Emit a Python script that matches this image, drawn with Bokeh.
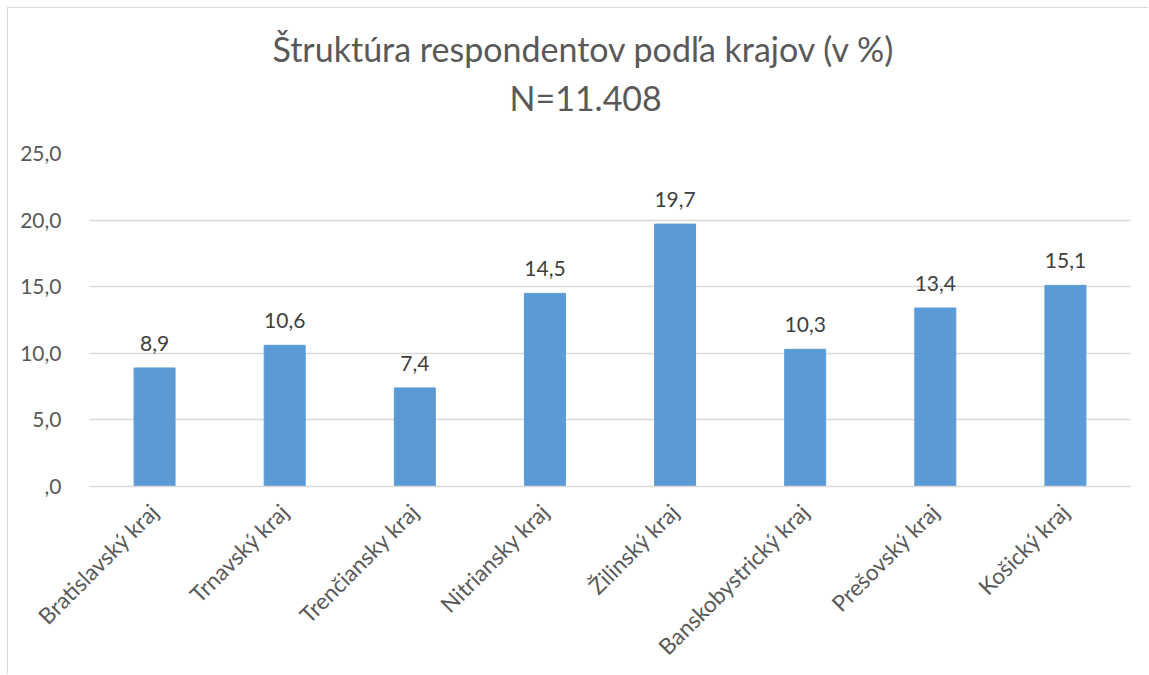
from bokeh.plotting import figure
from bokeh.models import ColumnDataSource, LabelSet, Title, FixedTicker
from bokeh.core.properties import value
from bokeh.embed import file_html
from bokeh.resources import INLINE
from math import pi

# Data
categories = ["Bratislavský kraj", "Trnavský kraj", "Trenčiansky kraj", "Nitriansky kraj",
              "Žilinský kraj", "Banskobystrický kraj", "Prešovský kraj", "Košický kraj"]
values = [8.9, 10.6, 7.4, 14.5, 19.7, 10.3, 13.4, 15.1]
y_ticks = [0, 5, 10, 15, 20, 25]
y_tick_labels = [",0", "5,0", "10,0", "15,0", "20,0", "25,0"]
title_lines = ["Štruktúra respondentov podľa krajov (v %)", "N=11.408"]

FONT = "Lato"
TXT = "#595959"
BAR = "#5B9BD5"
GRID = "#D9D9D9"

labels = [f"{v:.1f}".replace(".", ",") for v in values]
src = ColumnDataSource(dict(cat=categories, val=values, lab=labels))

p = figure(x_range=categories, y_range=(0, 25), width=1141, height=667,
           output_backend="svg", toolbar_location=None,
           min_border_left=81, min_border_right=19, min_border_top=145, min_border_bottom=189)
p.styles = {"margin-left": "7px", "margin-top": "7px",
            "border-left": "1px solid #D9D9D9", "border-top": "1px solid #D9D9D9"}

p.vbar(x="cat", top="val", width=0.315, source=src, fill_color=BAR, line_color=BAR)

p.add_layout(LabelSet(x="cat", y="val", text="lab", source=src, y_offset=17,
                      text_align="center", text_baseline="alphabetic",
                      text_font=value(FONT), text_font_size="21px", text_color="#404040"))

# Title: spacer nearest the frame, then the two title lines
p.add_layout(Title(text=" ", text_font_size="10px", standoff=19), "above")
p.add_layout(Title(text=title_lines[1], align="left", offset=420, standoff=7,
                   text_font=FONT, text_font_size="34px", text_font_style="normal",
                   text_color=TXT), "above")
p.add_layout(Title(text=title_lines[0], align="left", offset=183, standoff=5,
                   text_font=FONT, text_font_size="34px", text_font_style="normal",
                   text_color=TXT), "above")

p.outline_line_color = None
p.xgrid.grid_line_color = None
p.ygrid.grid_line_color = GRID
p.ygrid.grid_line_width = 1.5

p.yaxis.ticker = FixedTicker(ticks=y_ticks)
p.yaxis.major_label_overrides = {t: l for t, l in zip(y_ticks, y_tick_labels)}
p.yaxis.axis_line_color = None
p.yaxis.major_tick_line_color = None
p.yaxis.minor_tick_line_color = None
p.yaxis.major_label_standoff = 22
p.yaxis.major_label_text_font = FONT
p.yaxis.major_label_text_font_size = "21px"
p.yaxis.major_label_text_color = TXT

p.xaxis.axis_line_color = GRID
p.xaxis.axis_line_width = 1.5
p.xaxis.major_tick_line_color = None
p.xaxis.minor_tick_line_color = None
p.xaxis.major_label_orientation = pi / 4
p.xaxis.major_label_standoff = 15
p.xaxis.major_label_text_font = FONT
p.xaxis.major_label_text_font_size = "22.5px"
p.xaxis.major_label_text_color = TXT
p.x_range.range_padding = 0

open("out.html", "w").write(file_html(p, INLINE))
